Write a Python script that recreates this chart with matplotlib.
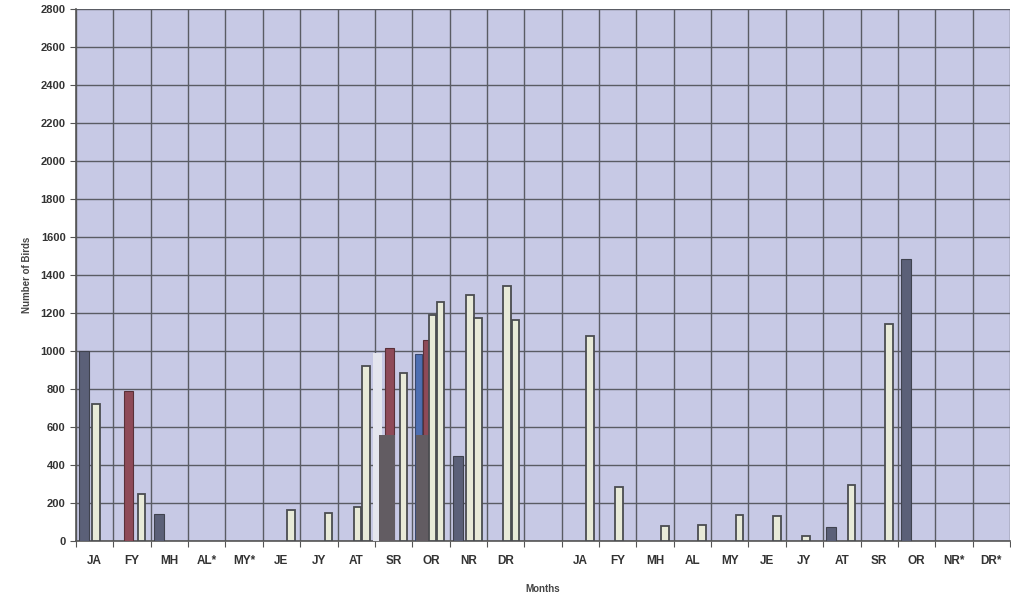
import matplotlib.pyplot as plt
import numpy as np

plt.rcParams['font.family'] = ['Liberation Sans', 'DejaVu Sans']

# 25 slots: 12 months, an empty gap, 12 months
months = ['JA', 'FY', 'MH', 'AL*', 'MY*', 'JE', 'JY', 'AT', 'SR', 'OR', 'NR', 'DR', '',
          'JA', 'FY', 'MH', 'AL', 'MY', 'JE', 'JY', 'AT', 'SR', 'OR', 'NR*', 'DR*']

# values, one entry per slot (0 = no bar)
dark_vals = [1000, 0, 140, 0, 0, 0, 0, 0, 0, 0, 447, 0, 0,
             0, 0, 0, 0, 0, 0, 0, 74, 0, 1484, 0, 0]
blue_vals = [0] * 9 + [984] + [0] * 15
red_vals = [0, 790, 0, 0, 0, 0, 0, 0, 1016, 1058, 0, 0, 0,
            0, 0, 0, 0, 0, 0, 0, 0, 0, 0, 0, 0]
block_vals = [0] * 8 + [558, 558] + [0] * 15
pale_vals = [0] * 8 + [990] + [0] * 16
outA_vals = [720, 0, 0, 0, 0, 0, 0, 179, 0, 1189, 1295, 1342, 0,
             0, 284, 0, 0, 0, 0, 26, 0, 0, 0, 0, 0]
outB_vals = [0, 250, 0, 0, 0, 163, 147, 920, 884, 1258, 1174, 1163, 0,
             1080, 0, 80, 84, 137, 132, 0, 295, 1142, 0, 0, 0]

fig = plt.figure(figsize=(10.12, 6.04), dpi=100)
ax = fig.add_axes([0.0751, 0.1043, 0.9229, 0.8807])
ax.set_facecolor('#c7c9e5')

x = np.arange(len(months))

def bars(vals, start, width, **kw):
    v = np.array(vals, dtype=float)
    m = v > 0
    ax.bar(x[m] + start, v[m], width=width, align='edge', zorder=3, **kw)

bars(pale_vals, -0.05, 0.25, color='#e4e5ee', linewidth=0)
bars(dark_vals, 0.08, 0.27, color='#5b6078', edgecolor='#40434f', linewidth=0.8)
bars(blue_vals, 0.08, 0.19, color='#4e6fb2', edgecolor='#3a4a70', linewidth=0.8)
bars(red_vals, 0.28, 0.24, color='#8e4a58', edgecolor='#5a3038', linewidth=0.8)
bars(block_vals, 0.1, 0.44, color='#625c62', linewidth=0)
bars(outA_vals, 0.44, 0.2, color='#e8ead8', edgecolor='#4a4c50', linewidth=1.3)
bars(outB_vals, 0.66, 0.2, color='#e8ead8', edgecolor='#4a4c50', linewidth=1.3)

ax.set_xlim(0, len(months))
ax.set_ylim(0, 2800)
ax.set_yticks(np.arange(0, 2801, 200))
ax.set_xticks(np.arange(0, len(months) + 1))
ax.set_xticks(x + 0.5, minor=True)
ax.set_xticklabels([])
ax.set_xticklabels(months, minor=True)
ax.tick_params(axis='x', which='minor', length=0, pad=10,
               labelsize=8.5, labelcolor='#333333')
ax.tick_params(axis='x', which='major', length=4, color='#555555')
ax.tick_params(axis='y', length=4, color='#555555', labelsize=8,
               labelcolor='#333333')
for t in ax.get_xticklabels(minor=True) + ax.get_yticklabels():
    t.set_fontweight('bold')

ax.grid(True, which='major', color='#5a5c64', linewidth=1.0, zorder=1)
ax.set_axisbelow(True)
for s in ['top', 'right']:
    ax.spines[s].set_visible(False)
for s in ['left', 'bottom']:
    ax.spines[s].set_color('#555555')
    ax.spines[s].set_linewidth(1.2)

ax.set_ylabel('Number of Birds', fontsize=7, fontweight='bold',
              color='#444444', labelpad=6)
ax.set_xlabel('Months', fontsize=7, fontweight='bold', color='#444444',
              labelpad=12)

fig.savefig('out.png', dpi=100)
